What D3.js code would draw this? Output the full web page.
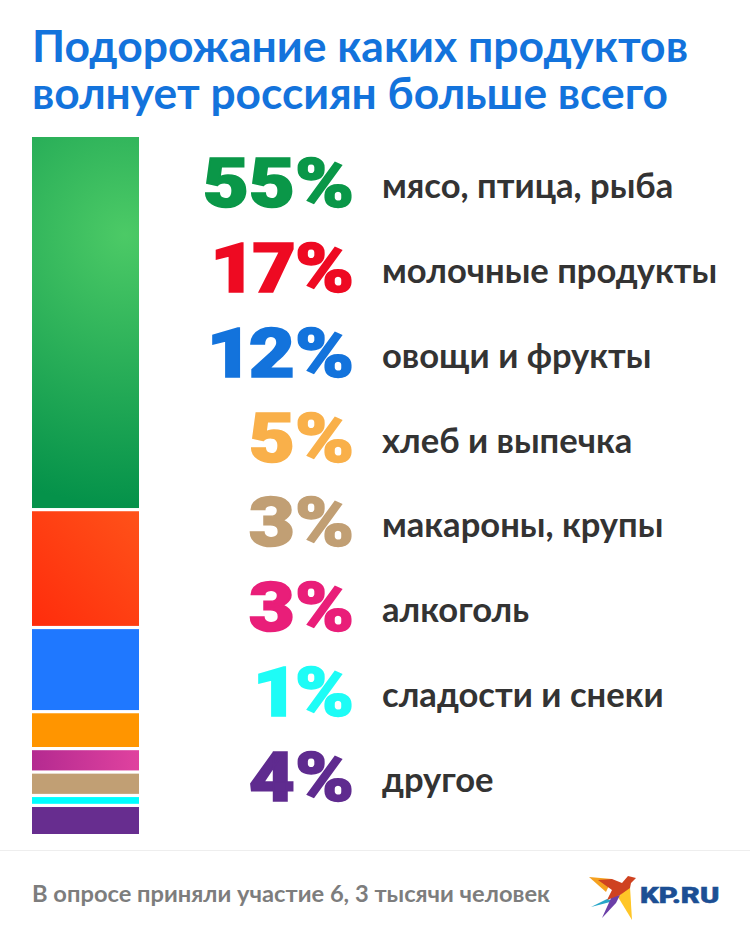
<!DOCTYPE html>
<html>
<head>
<meta charset="utf-8">
<script src="https://cdn.jsdelivr.net/npm/d3@7"></script>
<style>
  html, body { margin: 0; padding: 0; background: #fff; }
  svg { display: block; }
  text { font-family: Lato, "Open Sans", sans-serif; }
</style>
</head>
<body>
<div id="chart"></div>
<script>
// Values, top to bottom, as the labels list them
var labels = ["мясо, птица, рыба", "молочные продукты", "овощи и фрукты", "хлеб и выпечка", "макароны, крупы", "алкоголь", "сладости и снеки", "другое"];
var values = [55, 17, 12, 5, 3, 3, 1, 4];
var valueColors = ["#0a9748", "#ee0a22", "#1373dc", "#f9b04a", "#c19f74", "#e91e79", "#1efcf6", "#5f2b8f"];

// The bar swaps the two 3% blocks, so it has its own order
var barOrder = [0, 1, 2, 3, 5, 4, 6, 7];
var barColors = ["#0a9748", "#ff3c14", "#1f78ff", "#ff9500", "#cf3a9c", "#c19f74", "#00ffff", "#672d8f"];

var svgWidth = 750;
var svgHeight = 943;

var svg = d3.select("#chart")
  .append("svg")
  .attr("width", svgWidth)
  .attr("height", svgHeight);

var defs = svg.append("defs");

// Glow on the green block
var green = defs.append("radialGradient")
  .attr("id", "greenGlow")
  .attr("gradientUnits", "userSpaceOnUse")
  .attr("cx", 125).attr("cy", 235).attr("r", 270);
green.append("stop").attr("offset", "0").attr("stop-color", "#4cca66");
green.append("stop").attr("offset", "1").attr("stop-color", "#05924a");

var red = defs.append("linearGradient")
  .attr("id", "redFade")
  .attr("x1", 1).attr("y1", 0).attr("x2", 0).attr("y2", 1);
red.append("stop").attr("offset", "0").attr("stop-color", "#ff5219");
red.append("stop").attr("offset", "1").attr("stop-color", "#ff2c0c");

var pink = defs.append("linearGradient").attr("id", "pinkFade");
pink.append("stop").attr("offset", "0").attr("stop-color", "#b42a90");
pink.append("stop").attr("offset", "1").attr("stop-color", "#e0429f");

var barFills = ["url(#greenGlow)", "url(#redFade)", barColors[2], barColors[3], "url(#pinkFade)", barColors[5], barColors[6], barColors[7]];

// Title, one text with two lines
var title = svg.append("text")
  .attr("font-size", 44.5)
  .attr("font-weight", 700)
  .attr("fill", "#1373dc");

title.selectAll("tspan")
  .data(["Подорожание каких продуктов", "волнует россиян больше всего"])
  .enter()
  .append("tspan")
  .attr("x", 32)
  .attr("y", (d, i) => 62 + i * 46.5)
  .attr("textLength", (d, i) => i == 0 ? 656 : 636)
  .attr("lengthAdjust", "spacingAndGlyphs")
  .text(d => d);

// Stacked bar
var barTop = 137;
var barBottom = 834;
var gap = 3.2;
var heightScale = d3.scaleLinear()
  .domain([0, d3.sum(values)])
  .range([0, barBottom - barTop - gap * (values.length - 1)]);

var y = barTop;
barOrder.forEach(function(idx, i) {
  var h = heightScale(values[idx]);
  svg.append("rect")
    .attr("x", 32)
    .attr("y", y)
    .attr("width", 107)
    .attr("height", h)
    .attr("fill", barFills[i]);
  y += h + gap;
});

// Rows of percent + label
var rowScale = d3.scalePoint()
  .domain(d3.range(labels.length))
  .range([187, 781]);

svg.selectAll(".pct")
  .data(values)
  .enter()
  .append("text")
  .attr("class", "pct")
  .attr("transform", (d, i) => `translate(354, ${rowScale(i) + 20}) scale(1.17, 1)`)
  .attr("text-anchor", "end")
  .style("font-family", "Roboto, sans-serif")
  .style("font-variant-numeric", "proportional-nums")
  .attr("font-size", 68)
  .attr("font-weight", 900)
  .attr("fill", (d, i) => valueColors[i])
  .attr("stroke", (d, i) => valueColors[i])
  .attr("stroke-width", 1.6)
  .text(d => d + "%");

svg.selectAll(".label")
  .data(labels)
  .enter()
  .append("text")
  .attr("class", "label")
  .attr("x", 382)
  .attr("y", (d, i) => rowScale(i) + 11)
  .attr("font-size", 34.6)
  .attr("font-weight", 700)
  .attr("fill", "#333333")
  .text(d => d);

// Footer
svg.append("line")
  .attr("x1", 0).attr("x2", svgWidth)
  .attr("y1", 850.5).attr("y2", 850.5)
  .attr("stroke", "#eeeeee");

svg.append("text")
  .attr("x", 32)
  .attr("y", 902)
  .attr("font-size", 23.7)
  .attr("font-weight", 700)
  .attr("fill", "#7d7d7d")
  .text("В опросе приняли участие 6, 3 тысячи человек");

// KP.RU swallow
var logo = svg.append("g");
var birdParts = [
  ["#f5a11f", "M589 877 L612 879 L606 892 Z"],
  ["#f5a11f", "M620 895 L630 886 L626 897 Z"],
  ["#ffc627", "M618 897 L630 887 L632 920 Z"],
  ["#28a7c9", "M591 907 L607 899 L614 901 Z"],
  ["#6b3fa8", "M602 918 L612 896 L620 895 L616 903 Z"],
  ["#cf4220", "M598 880 L612 879 L622 883 L628 876 L636 878 L631 883 L630 888 L620 895 L607 900 L612 890 Z"]
];
logo.selectAll("path")
  .data(birdParts)
  .enter()
  .append("path")
  .attr("d", d => d[1])
  .attr("fill", d => d[0]);

svg.append("text")
  .attr("transform", "translate(640, 903) scale(1.3, 1)")
  .style("font-family", "Roboto, sans-serif")
  .attr("font-size", 22.5)
  .attr("font-weight", 900)
  .attr("fill", "#1c4f94")
  .attr("stroke", "#1c4f94")
  .attr("stroke-width", 0.5)
  .text("KP.RU");
</script>
</body>
</html>
